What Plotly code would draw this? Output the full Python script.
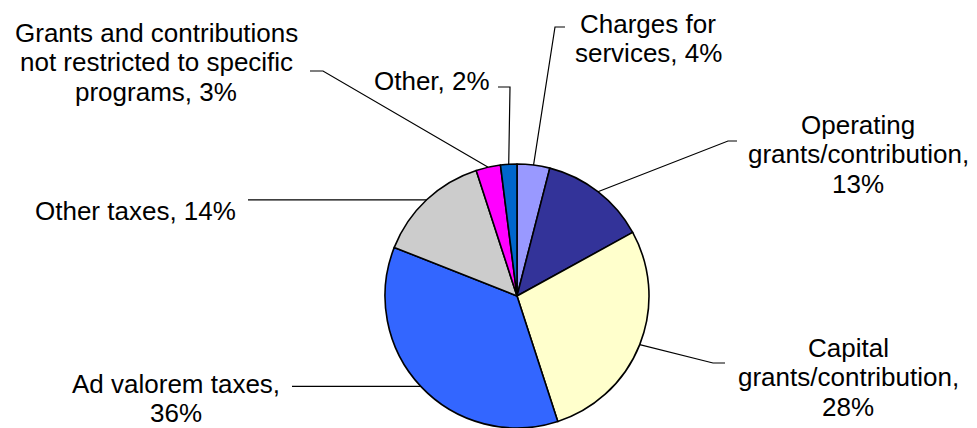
import math
import plotly.graph_objects as go

# Revenue sources, in clockwise order starting from 12 o'clock
categories = [
    "Charges for services",
    "Operating grants/contribution",
    "Capital grants/contribution",
    "Ad valorem taxes",
    "Other taxes",
    "Grants and contributions not restricted to specific programs",
    "Other",
]
shares = [4, 13, 28, 36, 14, 3, 2]
colors = ["#9999FF", "#333399", "#FFFFCC", "#3366FF", "#CCCCCC", "#FF00FF", "#0066CC"]

# Label text, one list of lines per slice
label_lines = [
    ["Charges for", "services, 4%"],
    ["Operating", "grants/contribution,", "13%"],
    ["Capital", "grants/contribution,", "28%"],
    ["Ad valorem taxes,", "36%"],
    ["Other taxes, 14%"],
    ["Grants and contributions", "not restricted to specific", "programs, 3%"],
    ["Other, 2%"],
]

W, H = 977, 428
CX, CY, R = 517, 296, 132          # pie centre / radius in pixels
FONT_SIZE = 26
LINE_GAP = 29.5

# label block: centre x, baseline of first line (pixels)
label_pos = [
    (648, 33),
    (858, 134),
    (848, 357),
    (176, 393),
    (135, 220),
    (156, 42),
    (432, 90),
]
# leader line bends: elbow point then end point (pixels)
leader_path = [
    [(555, 27), (565, 27)],
    [(728, 141), (737, 141)],
    [(713, 363), (725, 363)],
    [(292, None)],
    [(248, None)],
    [(323, 71), (310, 71)],
    [(510, 87), (498, 87)],
]


def px(x):
    return x / W


def py(y):
    return 1 - y / H


fig = go.Figure(
    go.Pie(
        labels=categories,
        values=shares,
        sort=False,
        direction="clockwise",
        rotation=0,
        marker=dict(colors=colors, line=dict(color="black", width=1.6)),
        textinfo="none",
        hoverinfo="label+percent",
        domain=dict(x=[px(CX - R), px(CX + R)], y=[py(CY + R), py(CY - R)]),
        showlegend=False,
    )
)

annotations = []
shapes = []
total = sum(shares)
cum = 0
for i, v in enumerate(shares):
    mid = (cum + v / 2) / total * 2 * math.pi
    cum += v
    sx = CX + R * math.sin(mid)
    sy = CY - R * math.cos(mid)
    pts = [(sx, sy)]
    for (x, y) in leader_path[i]:
        pts.append((x, sy if y is None else y))
    path = "M " + " L ".join(f"{px(x):.5f},{py(y):.5f}" for x, y in pts)
    shapes.append(dict(type="path", xref="paper", yref="paper", path=path,
                       line=dict(color="black", width=1.2)))

    lx, base = label_pos[i]
    for k, line in enumerate(label_lines[i]):
        yc = base + k * LINE_GAP - 0.3465 * FONT_SIZE
        annotations.append(dict(
            x=px(lx), y=py(yc), xref="paper", yref="paper",
            text=line, showarrow=False, xanchor="center", yanchor="middle",
            font=dict(family="Liberation Sans, Arial, sans-serif", size=FONT_SIZE, color="black"),
        ))

fig.update_layout(
    width=W, height=H,
    margin=dict(l=0, r=0, t=0, b=0),
    paper_bgcolor="white",
    plot_bgcolor="white",
    annotations=annotations,
    shapes=shapes,
)

fig.write_html("out.html")
